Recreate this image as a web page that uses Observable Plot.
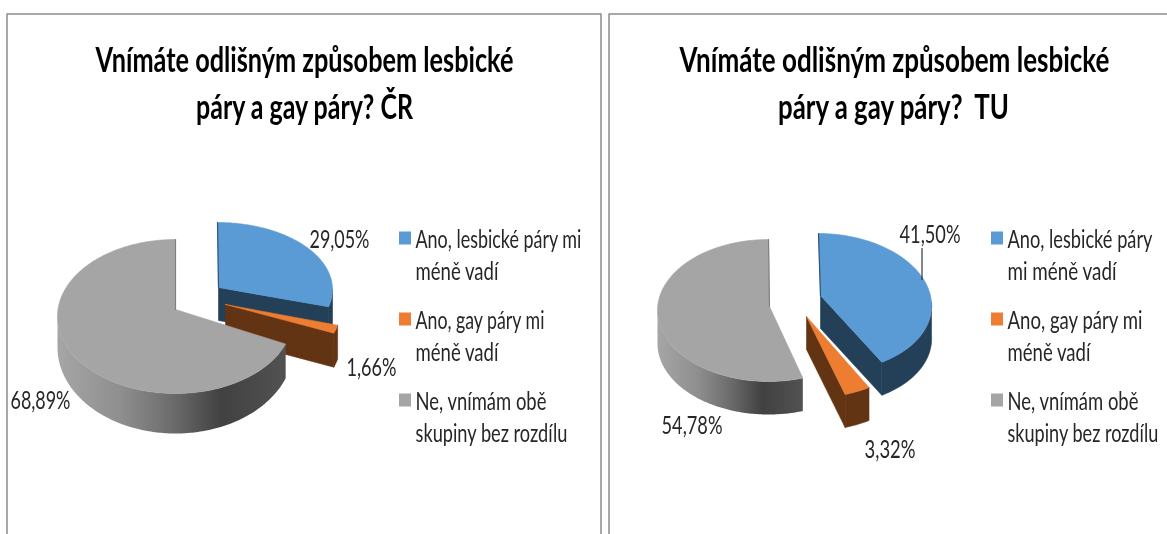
<!DOCTYPE html>
<html><head><meta charset="utf-8">
<style>html,body{margin:0;padding:0;background:#fff}</style>
<script src="https://cdn.jsdelivr.net/npm/d3@7"></script>
<script src="https://cdn.jsdelivr.net/npm/@observablehq/plot@0.6"></script>
</head><body><div id="c"></div>
<script>
// Data
const categories = ["Ano, lesbické páry mi méně vadí", "Ano, gay páry mi méně vadí", "Ne, vnímám obě skupiny bez rozdílu"];
const valuesCR = [29.05, 1.66, 68.89];
const valuesTU = [41.50, 3.32, 54.78];
const titleCR = ["Vnímáte odlišným způsobem lesbické", "páry a gay páry? ČR"];
const titleTU = ["Vnímáte odlišným způsobem lesbické", "páry a gay páry?  TU"];
const legendCR = ["Ano, lesbické páry mi", "méně vadí", "Ano, gay páry mi", "méně vadí", "Ne, vnímám obě", "skupiny bez rozdílu"];
const legendTU = ["Ano, lesbické páry", "mi méně vadí", "Ano, gay páry mi", "méně vadí", "Ne, vnímám obě", "skupiny bez rozdílu"];

// Styles
const topColors = ["#5b9bd5", "#ed7d31", "#a5a5a5"];
const wallColors = ["#243f58", "#633413", "url(#wall)"];
const frameColor = "#8c8c8c";
const FONT = "Lato, Carlito, 'Open Sans', sans-serif";

// Layout: each slice's projected ellipse (the 3D pie has perspective and exploded slices)
const geomCR = [
  {ax:218, ay:287, cx:217, cy:289, rx:115, ry:67, d:33, e:0, k:0},
  {ax:225, ay:304, cx:226, cy:304, rx:115, ry:80, d:34, e:0, k:0},
  {ax:175, ay:309, cx:175, cy:316, rx:118, ry:77, d:31, e:9, k:0}
];
const geomTU = [
  {ax:820, ay:295, cx:823, cy:302, rx:108, ry:69, d:33, e:0, k:5},
  {ax:806, ay:316, cx:806, cy:316, rx:125, ry:82, d:33, e:0, k:0},
  {ax:769, ay:306, cx:768, cy:310, rx:111, ry:71, d:33, e:0, k:0}
];

const rad = Math.PI / 180;
const P = (g, t) => ({x: g.cx + g.rx * Math.sin(t * rad) - g.k * Math.cos(t * rad), y: g.cy - g.ry * Math.cos(t * rad)});
const Low = (g, t) => { const p = P(g, t); return {x: p.x, y: p.y + g.d - g.e * Math.cos(t * rad)}; };
const span = (a, b) => { const n = Math.max(2, Math.ceil(Math.abs(b - a))); return d3.range(n + 1).map(i => a + (b - a) * i / n); };
const close = pts => [...pts, pts[0]];

const poly = (pts, fill, sw = 0.6) => Plot.line(close(pts), {x: "x", y: "y", fill, stroke: fill.startsWith("url") ? "none" : fill, strokeWidth: sw, curve: "linear"});

function pieMarks(values, geom, order) {
  const total = d3.sum(values);
  let acc = 0;
  const angles = values.map(v => { const a = [acc, acc + v / total * 360]; acc = a[1]; return a; });
  const out = [];
  for (const i of order) {
    const [a0, a1] = angles[i], g = geom[i];
    const apex = {x: g.ax, y: g.ay};
    const wall = wallColors[i];
    // radial cut wall
    if (a1 < 180) {
      const e = P(g, a1), f = Low(g, a1);
      out.push(poly([apex, e, f, {x: g.ax, y: g.ay + g.d}], wall));
    }
    // outer wall
    const w0 = Math.max(a0, 90), w1 = Math.min(a1, 270);
    if (w1 > w0) {
      out.push(poly([...span(w0, w1).map(t => P(g, t)), ...span(w1, w0).map(t => Low(g, t))], wall));
    }
    // top face
    out.push(poly([apex, ...span(a0, a1).map(t => P(g, t))], topColors[i]));
    // thin shaded edge along the first (or closing) radius
    if (i === 0) out.push(Plot.line([apex, P(g, a0)], {x: "x", y: "y", stroke: "#2f5578", strokeWidth: 1.2}));
    if (i === 2) out.push(Plot.line([apex, P(g, a1)], {x: "x", y: "y", stroke: "#808080", strokeWidth: 1.2}));
  }
  return out;
}

const fmt = v => v.toFixed(2).replace(".", ",") + "%";

// Text rows
const rows = [
  {t: titleCR[0], x: 304, y: 60, w: 418},
  {t: titleCR[1], x: 304, y: 107, w: 217},
  {t: titleTU[0], x: 894, y: 60, w: 430},
  {t: titleTU[1], x: 893, y: 107, w: 231},
];
const labelRows = [
  {t: fmt(valuesCR[0]), x: 339, y: 239, w: 60},
  {t: fmt(valuesCR[1]), x: 371, y: 367, w: 50},
  {t: fmt(valuesCR[2]), x: 40, y: 400, w: 60},
  {t: fmt(valuesTU[0]), x: 929.5, y: 234, w: 61},
  {t: fmt(valuesTU[1]), x: 889.5, y: 449, w: 51},
  {t: fmt(valuesTU[2]), x: 691.5, y: 425, w: 61},
];
const legendY = [239, 271, 320, 352, 401, 433];
const legendWCR = [166, 83, 129, 83, 131, 152];
const legendWTU = [145, 109, 135, 83, 131, 151];
const legendRows = [
  ...legendCR.map((t, i) => ({t, x: 415, y: legendY[i], w: legendWCR[i]})),
  ...legendTU.map((t, i) => ({t, x: 1007, y: legendY[i], w: legendWTU[i]})),
];
const swatches = [399, 991].flatMap(x0 => [238, 319, 400].map((yc, i) => ({x1: x0, x2: x0 + 12, y1: yc - 6.5, y2: yc + 6.5, fill: topColors[i]})));

// Tag each text with its target width; the condensed look is applied once the text can be measured.
const fit = data => function (index, scales, values, dimensions, context, next) {
  const g = next(index, scales, values, dimensions, context);
  d3.select(g).selectAll("text").attr("data-w", i => data[i].w);
  return g;
};

const defs = () => {
  const s = d3.create("svg:defs");
  const lg = s.append("linearGradient").attr("id", "wall");
  [[0, "#a6a6a6"], [0.28, "#8e8e8e"], [0.5, "#6c6c6c"], [0.72, "#414141"], [1, "#525252"]]
    .forEach(([o, c]) => lg.append("stop").attr("offset", o).attr("stop-color", c));
  return s.node();
};

// Frames
const frames = [
  [{x: 6.5, y: 534}, {x: 6.5, y: 13.5}, {x: 600.5, y: 13.5}, {x: 600.5, y: 534}],
  [{x: 608.5, y: 534}, {x: 608.5, y: 13.5}, {x: 1167, y: 13.5}]
];

const chart = Plot.plot({
  width: 1167, height: 534, margin: 0,
  x: {domain: [0, 1167], range: [0, 1167], axis: null},
  y: {domain: [0, 534], range: [0, 534], axis: null},
  style: {background: "#fff", filter: "blur(0.4px)"},
  marks: [
    defs,
    ...frames.map(f => Plot.line(f, {x: "x", y: "y", stroke: frameColor, strokeWidth: 1.5})),
    ...pieMarks(valuesCR, geomCR, [0, 1, 2]),
    ...pieMarks(valuesTU, geomTU, [2, 1, 0]),
    Plot.line([{x: 921.5, y: 248}, {x: 921.5, y: 279}], {x: "x", y: "y", stroke: "#111", strokeWidth: 1}),
    Plot.rect(swatches, {x1: "x1", x2: "x2", y1: "y1", y2: "y2", fill: "fill"}),
    Plot.text(rows, {x: "x", y: "y", text: "t", fontFamily: FONT, fontWeight: 700, fontSize: 35, fill: "#000", textAnchor: "middle", lineAnchor: "middle", render: fit(rows)}),
    Plot.text(labelRows, {x: "x", y: "y", text: "t", fontFamily: FONT, fontSize: 25, fill: "#262626", textAnchor: "middle", lineAnchor: "middle", render: fit(labelRows)}),
    Plot.text(legendRows, {x: "x", y: "y", text: "t", fontFamily: FONT, fontSize: 25, fill: "#262626", textAnchor: "start", lineAnchor: "middle", render: fit(legendRows)}),
  ]
});
document.getElementById("c").append(chart);
chart.querySelectorAll("text[data-w]").forEach(el => {
  const sx = +el.getAttribute("data-w") / el.getComputedTextLength();
  el.setAttribute("transform", `${el.getAttribute("transform") || ""} scale(${sx},1)`);
});
</script></body></html>
